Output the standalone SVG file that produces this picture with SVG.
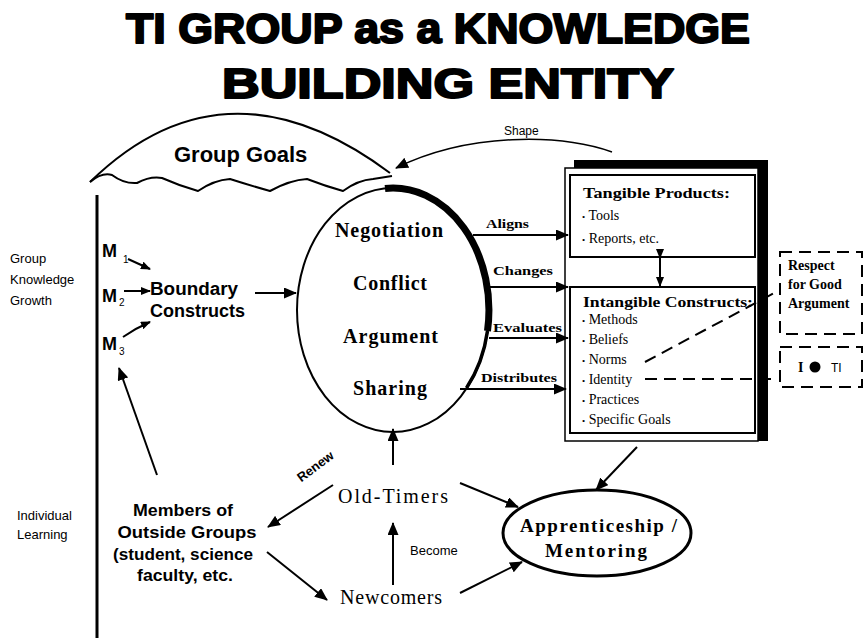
<svg xmlns="http://www.w3.org/2000/svg" width="865" height="638" viewBox="0 0 865 638">
  <style>
    .title { font-family: "Liberation Sans", Arial, sans-serif; font-weight: bold; font-size: 42px; fill: #000; stroke: #000; stroke-width: 2; stroke-linejoin: round; }
    .sans { font-family: "Liberation Sans", Arial, sans-serif; fill: #000; }
    .serif { font-family: "Liberation Serif", "Times New Roman", serif; fill: #000; }
    .b { font-weight: bold; }
    .line { fill: none; stroke: #000; stroke-width: 2; }
    .thin { fill: none; stroke: #000; stroke-width: 1.5; }
    .dash { fill: none; stroke: #000; stroke-width: 2; stroke-dasharray: 12 7; }
    .box { fill: #fff; stroke: #000; stroke-width: 2; }
  </style>
  <defs>
    <marker id="ah" viewBox="0 0 13 11" refX="12" refY="5.5" markerWidth="13" markerHeight="11" orient="auto-start-reverse" markerUnits="userSpaceOnUse">
      <path d="M0,0 L13,5.5 L0,11 z" fill="#000"/>
    </marker>
    <marker id="ahs" viewBox="0 0 10 8" refX="9" refY="4" markerWidth="10" markerHeight="8" orient="auto" markerUnits="userSpaceOnUse">
      <path d="M0,0 L10,4 L0,8 z" fill="#000"/>
    </marker>
  </defs>

  <rect width="865" height="638" fill="#fff"/>

  <!-- heading -->
  <g id="title">
    <text class="title" x="126" y="43" textLength="624" lengthAdjust="spacingAndGlyphs">TI GROUP as a KNOWLEDGE</text>
    <text class="title" x="222" y="98" textLength="452" lengthAdjust="spacingAndGlyphs">BUILDING ENTITY</text>
  </g>

  <!-- axis separating group and individual levels -->
  <g id="axis">
    <line x1="97" y1="195" x2="97" y2="638" stroke="#000" stroke-width="3"/>
    <text class="sans" font-size="13" x="10" y="263">Group</text>
    <text class="sans" font-size="13" x="10" y="284">Knowledge</text>
    <text class="sans" font-size="13" x="10" y="305">Growth</text>
    <text class="sans" font-size="13" x="17" y="520">Individual</text>
    <text class="sans" font-size="13" x="17" y="539">Learning</text>
  </g>

  <!-- group goals cloud -->
  <g id="group-goals">
    <path class="line" d="M90,182 Q225,50 390,173"/>
    <path class="line" d="M90,182 Q102,172 112,175 Q124,184 137,183 Q150,176 162,178 Q180,186 198,191 Q214,180 230,179 Q252,186 270,191 Q290,180 307,179 Q325,186 343,191 Q358,180 373,179 L392,176"/>
    <text class="sans b" font-size="22" x="174" y="162">Group Goals</text>
  </g>

  <!-- members M1..M3 -->
  <g id="members-m">
    <text class="sans b" font-size="18" x="102" y="257">M</text>
    <text class="sans" font-size="10" x="123" y="263">1</text>
    <text class="sans b" font-size="18" x="102" y="302">M</text>
    <text class="sans" font-size="10" x="119" y="306">2</text>
    <text class="sans b" font-size="18" x="102" y="350">M</text>
    <text class="sans" font-size="10" x="119" y="355">3</text>
  </g>

  <g id="boundary-constructs">
    <text class="sans b" font-size="18" x="150" y="295" textLength="88" lengthAdjust="spacingAndGlyphs">Boundary</text>
    <text class="sans b" font-size="18" x="150" y="317" textLength="95" lengthAdjust="spacingAndGlyphs">Constructs</text>
  </g>

  <!-- central process ellipse -->
  <g id="process">
    <ellipse cx="393" cy="310" rx="96" ry="122" class="line"/>
    <path d="M385,188.5 A96,122 0 0 1 487.5,331" fill="none" stroke="#000" stroke-width="7"/>
    <path d="M487.5,331 A96,122 0 0 1 466.5,388" fill="none" stroke="#000" stroke-width="3.5"/>
    <text class="serif b" font-size="20" x="335" y="237" textLength="108" lengthAdjust="spacing">Negotiation</text>
    <text class="serif b" font-size="20" x="353" y="290" textLength="74" lengthAdjust="spacing">Conflict</text>
    <text class="serif b" font-size="20" x="343" y="343" textLength="95" lengthAdjust="spacing">Argument</text>
    <text class="serif b" font-size="20" x="353" y="395" textLength="74" lengthAdjust="spacing">Sharing</text>
  </g>

  <!-- products frame -->
  <g id="products">
    <rect x="574" y="160" width="194" height="8" fill="#000"/>
    <rect x="758" y="160" width="10" height="281" fill="#000"/>
    <rect x="565" y="168" width="193" height="273" fill="#fff" stroke="#000" stroke-width="1.5"/>
    <rect class="box" x="570" y="175" width="185" height="82"/>
    <text class="serif b" font-size="14" x="583" y="198" textLength="147" lengthAdjust="spacingAndGlyphs">Tangible Products:</text>
    <text class="serif" font-size="14" x="582" y="220"><tspan font-size="9">•</tspan> Tools</text>
    <text class="serif" font-size="14" x="582" y="243"><tspan font-size="9">•</tspan> Reports, etc.</text>
    <rect class="box" x="570" y="287" width="185" height="146"/>
    <text class="serif b" font-size="14" x="583" y="307" textLength="170" lengthAdjust="spacingAndGlyphs">Intangible Constructs:</text>
    <text class="serif" font-size="14" x="582" y="324"><tspan font-size="9">•</tspan> Methods</text>
    <text class="serif" font-size="14" x="582" y="344"><tspan font-size="9">•</tspan> Beliefs</text>
    <text class="serif" font-size="14" x="582" y="364"><tspan font-size="9">•</tspan> Norms</text>
    <text class="serif" font-size="14" x="582" y="384"><tspan font-size="9">•</tspan> Identity</text>
    <text class="serif" font-size="14" x="582" y="404"><tspan font-size="9">•</tspan> Practices</text>
    <text class="serif" font-size="14" x="582" y="424"><tspan font-size="9">•</tspan> Specific Goals</text>
  </g>

  <!-- side notes -->
  <g id="respect">
    <rect class="dash" x="780" y="252" width="82" height="82"/>
    <text class="serif b" font-size="14" x="788" y="270">Respect</text>
    <text class="serif b" font-size="14" x="788" y="289">for Good</text>
    <text class="serif b" font-size="14" x="788" y="308">Argument</text>
  </g>
  <g id="i-ti">
    <rect class="dash" x="780" y="347" width="82" height="40"/>
    <text class="serif b" font-size="14" x="798" y="372">I</text>
    <circle cx="815" cy="367" r="5.5" fill="#000"/>
    <text class="sans" font-size="12" x="831" y="372">TI</text>
  </g>

  <g id="apprenticeship">
    <ellipse cx="597" cy="533" rx="94" ry="43" fill="none" stroke="#000" stroke-width="3"/>
    <text class="serif b" font-size="19" x="520" y="532" textLength="157" lengthAdjust="spacing">Apprenticeship /</text>
    <text class="serif b" font-size="19" x="545" y="557" textLength="102" lengthAdjust="spacing">Mentoring</text>
  </g>

  <g id="old-timers">
    <text class="serif" font-size="20" x="338" y="503" textLength="110" lengthAdjust="spacing">Old-Timers</text>
  </g>

  <g id="newcomers">
    <text class="serif" font-size="20" x="340" y="604" textLength="102" lengthAdjust="spacing">Newcomers</text>
  </g>

  <g id="outside-members">
    <text class="sans b" font-size="17" x="183" y="516" text-anchor="middle" textLength="100" lengthAdjust="spacingAndGlyphs">Members of</text>
    <text class="sans b" font-size="17" x="187" y="538" text-anchor="middle" textLength="139" lengthAdjust="spacingAndGlyphs">Outside Groups</text>
    <text class="sans b" font-size="17" x="183" y="560" text-anchor="middle" textLength="140" lengthAdjust="spacingAndGlyphs">(student, science</text>
    <text class="sans b" font-size="17" x="185" y="581" text-anchor="middle" textLength="96" lengthAdjust="spacingAndGlyphs">faculty, etc.</text>
  </g>

  <!-- connectors -->
  <g id="connectors">
    <path class="thin" d="M612,152 C560,134 470,132 396,168" marker-end="url(#ah)"/>
    <text class="sans" font-size="12" x="504" y="135">Shape</text>

    <line class="line" x1="128" y1="259" x2="150" y2="269" marker-end="url(#ahs)"/>
    <line class="line" x1="124" y1="291" x2="150" y2="291" marker-end="url(#ahs)"/>
    <path class="line" d="M123,337 Q136,328 150,322" marker-end="url(#ahs)"/>
    <line class="line" x1="255" y1="293" x2="296" y2="293" marker-end="url(#ah)"/>

    <line class="line" x1="473" y1="235" x2="568" y2="235" marker-end="url(#ah)"/>
    <text class="serif b" font-size="13" x="486" y="228" textLength="43" lengthAdjust="spacingAndGlyphs">Aligns</text>
    <line class="line" x1="489" y1="287" x2="568" y2="287" marker-end="url(#ah)"/>
    <text class="serif b" font-size="13" x="493" y="275" textLength="60" lengthAdjust="spacingAndGlyphs">Changes</text>
    <line class="line" x1="489" y1="338" x2="568" y2="338" marker-end="url(#ah)"/>
    <text class="serif b" font-size="13" x="493" y="332" textLength="69" lengthAdjust="spacingAndGlyphs">Evaluates</text>
    <line class="line" x1="460" y1="389" x2="566" y2="389" marker-end="url(#ah)"/>
    <text class="serif b" font-size="13" x="481" y="382" textLength="76" lengthAdjust="spacingAndGlyphs">Distributes</text>

    <line class="line" x1="660" y1="258" x2="660" y2="286" marker-start="url(#ahs)" marker-end="url(#ahs)"/>

    <line class="dash" x1="645" y1="362" x2="778" y2="291"/>
    <line class="dash" x1="645" y1="379" x2="778" y2="379"/>

    <line class="line" x1="157" y1="475" x2="119" y2="368" marker-end="url(#ah)"/>
    <line class="line" x1="393" y1="465" x2="393" y2="429" marker-end="url(#ah)"/>
    <line class="line" x1="333" y1="485" x2="268" y2="527" marker-end="url(#ah)"/>
    <text class="sans b" font-size="13" transform="translate(318,470) rotate(-37)" text-anchor="middle">Renew</text>
    <line class="line" x1="460" y1="483" x2="518" y2="507" marker-end="url(#ah)"/>
    <line class="line" x1="393" y1="585" x2="393" y2="523" marker-end="url(#ah)"/>
    <text class="sans" font-size="13" x="410" y="555">Become</text>
    <line class="line" x1="267" y1="552" x2="327" y2="600" marker-end="url(#ah)"/>
    <line class="line" x1="460" y1="593" x2="522" y2="562" marker-end="url(#ah)"/>
    <line class="line" x1="637" y1="447" x2="596" y2="490" marker-end="url(#ah)"/>
  </g>
</svg>
